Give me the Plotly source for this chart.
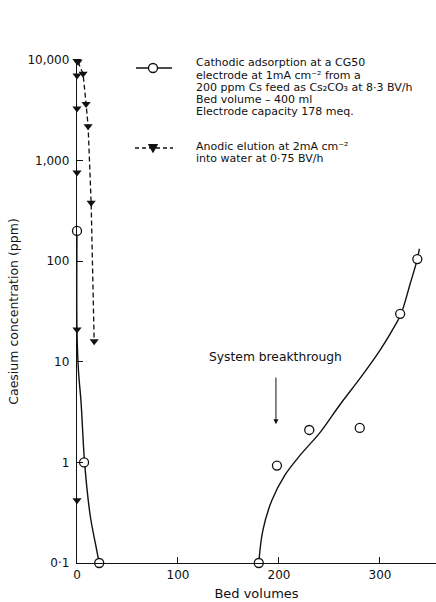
import plotly.graph_objects as go
import math

# ---------------- data ----------------
# Cathodic adsorption - measured points (open circles)
ads_bv = [0, 7, 22, 180, 198, 230, 280, 320, 337]
ads_ppm = [200, 1.0, 0.1, 0.1, 0.93, 2.1, 2.2, 30, 105]

# Cathodic adsorption - drawn smooth curve (two pieces; the flat part lies on the axis)
fit_bv = [0, 0, 1.5, 4, 7.5, 13, 18, 22, None,
          180, 184, 193, 206, 221, 241, 260, 280, 300, 315, 321, 330, 337, 339]
fit_ppm = [200, 20, 8, 4, 1.0, 0.3, 0.16, 0.1, None,
           0.1, 0.21, 0.42, 0.75, 1.18, 2.0, 3.7, 6.8, 13, 23, 30, 60, 105, 133]

# Anodic elution - dashed series (filled triangles)
elu_bv = [1, 6, 9, 11, 14, 17]
elu_ppm = [9600, 7300, 3650, 2200, 380, 16]

# Filled triangles lying on the zero bed-volume line
zero_bv = [0, 0, 0, 0, 0, 0]
zero_ppm = [9800, 7000, 3300, 760, 21, 0.42]

x_ticks = [0, 100, 200, 300]
x_ticktext = ["0", "100", "200", "300"]
y_ticks = [0.1, 1, 10, 100, 1000, 10000]
y_ticktext = ["0·1", "1", "10", "100", "1,000", "10,000"]

legend_1 = ["Cathodic adsorption at a CG50",
            "electrode at 1mA cm⁻² from a",
            "200 ppm Cs feed as Cs₂CO₃ at 8·3 BV/h",
            "Bed volume – 400 ml",
            "Electrode capacity 178 meq."]
legend_2 = ["Anodic elution at 2mA cm⁻²",
            "into water at 0·75 BV/h"]

FONT = "DejaVu Sans"
INK = "#111111"

# ---------------- geometry helpers (layout only) ----------------
W, H = 436, 602
L, R, T, B = 77, 0, 60, 39


def px_x(px):
    return (px - L) / (W - L - R)


def px_y(py):
    return (H - B - py) / (H - B - T)


fig = go.Figure()

fig.add_trace(go.Scatter(
    x=fit_bv, y=fit_ppm, mode="lines", connectgaps=False,
    line=dict(color=INK, width=1.4, shape="spline", smoothing=1.0),
    showlegend=False, hoverinfo="skip"))

fig.add_trace(go.Scatter(
    x=elu_bv, y=elu_ppm, mode="lines+markers",
    line=dict(color=INK, width=1.3, dash="5px,3px"),
    marker=dict(symbol="triangle-down", size=8, color=INK),
    showlegend=False, cliponaxis=False))

fig.add_trace(go.Scatter(
    x=zero_bv, y=zero_ppm, mode="markers",
    marker=dict(symbol="triangle-down", size=8, color=INK),
    showlegend=False, cliponaxis=False))

fig.add_trace(go.Scatter(
    x=ads_bv, y=ads_ppm, mode="markers",
    marker=dict(symbol="circle", size=9, color="white",
                line=dict(color=INK, width=1.3)),
    showlegend=False, cliponaxis=False))

# ---------------- hand-drawn legend ----------------
shapes = [
    dict(type="line", xref="paper", yref="paper",
         x0=px_x(136), x1=px_x(172), y0=px_y(68), y1=px_y(68),
         line=dict(color=INK, width=1.3)),
    dict(type="circle", xref="paper", yref="paper",
         xsizemode="pixel", ysizemode="pixel",
         xanchor=px_x(153), yanchor=px_y(68),
         x0=-4.5, x1=4.5, y0=-4.5, y1=4.5,
         fillcolor="white", line=dict(color=INK, width=1.3)),
    dict(type="line", xref="paper", yref="paper",
         x0=px_x(135), x1=px_x(173), y0=px_y(148), y1=px_y(148),
         line=dict(color=INK, width=1.3, dash="4px,3px")),
    dict(type="path", xref="paper", yref="paper",
         xsizemode="pixel", ysizemode="pixel",
         xanchor=px_x(153), yanchor=px_y(148),
         path="M-4.5,3.5 L4.5,3.5 L0,-4.5 Z",
         fillcolor=INK, line=dict(color=INK, width=1)),
]

annotations = []
for i, line in enumerate(legend_1):
    annotations.append(dict(
        text=line, xref="paper", yref="paper",
        x=px_x(194), y=px_y(63 + 12.2 * i), xanchor="left", yanchor="middle",
        showarrow=False, font=dict(family=FONT, size=11, color=INK)))
for i, line in enumerate(legend_2):
    annotations.append(dict(
        text=line, xref="paper", yref="paper",
        x=px_x(194), y=px_y(146 + 12.2 * i), xanchor="left", yanchor="middle",
        showarrow=False, font=dict(family=FONT, size=11, color=INK)))

annotations.append(dict(
    text="System breakthrough", x=197, y=math.log10(2.4),
    xref="x", yref="y", showarrow=True, ax=0, ay=-67,
    arrowhead=2, arrowsize=1, arrowwidth=1, arrowcolor=INK,
    startstandoff=12,
    font=dict(family=FONT, size=12.3, color=INK)))

fig.update_layout(
    width=W, height=H,
    margin=dict(l=L, r=R, t=T, b=B),
    paper_bgcolor="white", plot_bgcolor="white",
    font=dict(family=FONT, size=12, color=INK),
    shapes=shapes, annotations=annotations,
    showlegend=False,
)

fig.update_xaxes(
    range=[0, 355.5], showline=True, linecolor=INK, linewidth=1.4,
    ticks="inside", ticklen=6, tickwidth=1.2, tickcolor=INK,
    tickvals=x_ticks, ticktext=x_ticktext,
    tickfont=dict(family=FONT, size=12, color=INK),
    showgrid=False, zeroline=False,
    title=dict(text="Bed volumes", font=dict(family=FONT, size=13, color=INK), standoff=8),
)

fig.update_yaxes(
    type="log", range=[-1, 4], showline=True, linecolor=INK, linewidth=1.4,
    ticks="inside", ticklen=6, tickwidth=1.2, tickcolor=INK,
    tickvals=y_ticks, ticktext=y_ticktext, ticklabelstandoff=4,
    tickfont=dict(family=FONT, size=12, color=INK),
    showgrid=False, zeroline=False,
    title=dict(text="Caesium concentration (ppm)", font=dict(family=FONT, size=12.5, color=INK), standoff=6),
)

fig.write_html("out.html")
